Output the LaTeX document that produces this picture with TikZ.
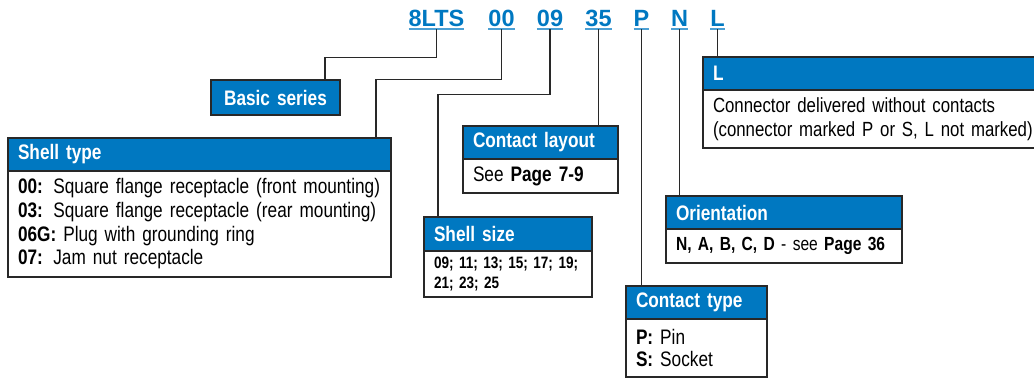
\documentclass[tikz,border=0pt]{standalone}
\usepackage{fontspec}
\setmainfont{Liberation Sans}[FakeStretch=0.82]
\newfontfamily\codefont{Liberation Sans}
\usetikzlibrary{positioning}
\definecolor{hdrblue}{RGB}{0,120,193}
\definecolor{rimgray}{RGB}{40,40,40}
\tikzset{
  code/.style={font=\codefont\bfseries\fontsize{23.5}{28}\selectfont, text=hdrblue, inner xsep=0pt, inner ysep=3pt, outer sep=0pt, anchor=base},
  uline/.style={hdrblue!70, line width=2pt},
  hdr/.style={fill=hdrblue, draw=rimgray, line width=1.4pt, text=white, font=\bfseries\fontsize{21}{24}\selectfont, anchor=north west, align=left, minimum height=33pt, inner xsep=10pt, inner ysep=0pt, outer sep=0pt},
  bdy/.style={fill=white, draw=rimgray, line width=1.4pt, font=\fontsize{21}{23.7}\selectfont, anchor=north west, align=left, inner xsep=10pt, inner ysep=0pt, outer sep=0pt},
  link/.style={rimgray, line width=1.4pt}
}
\begin{document}
\begin{tikzpicture}[x=1pt,y=-1pt]
  \useasboundingbox (0,0) rectangle (1034,378);
  % ordering code
  \node[code] (k8lts) at (436.5,26) {8LTS};
  \node[code] (k00) at (501.5,26) {00};
  \node[code] (k09) at (550,26) {09};
  \node[code] (k35) at (598.5,26) {35};
  \node[code] (kP) at (641.5,26) {P};
  \node[code] (kN) at (679.5,26) {N};
  \node[code] (kL) at (717.5,26) {L};
  \foreach \k in {k8lts,k00,k09,k35,kP,kN,kL}
    \draw[uline] (\k.south west) -- (\k.south east);

  % boxes
  \node[hdr, text width=109pt, align=center, minimum height=35pt] (bs-h) at (211,80) {Basic series};

  \node[hdr, text width=363pt] (st-h) at (8,138) {Shell type};
  \node[bdy, text width=363pt, minimum height=106pt] (st-b) at (st-h.south west)
    {\textbf{00:} Square flange receptacle (front mounting)\\
     \textbf{03:} Square flange receptacle (rear mounting)\\
     \textbf{06G:} Plug with grounding ring\\
     \textbf{07:} Jam nut receptacle};

  \node[hdr, text width=135pt] (cl-h) at (463,126) {Contact layout};
  \node[bdy, text width=135pt, minimum height=34pt] (cl-b) at (cl-h.south west) {See \textbf{Page 7-9}};

  \node[hdr, text width=148pt, minimum height=34pt] (ss-h) at (424,217) {Shell size};
  \node[bdy, text width=148pt, minimum height=46pt, font=\bfseries\fontsize{16.5}{20.5}\selectfont] (ss-b) at (ss-h.south west)
    {09; 11; 13; 15; 17; 19;\\ 21; 23; 25};

  \node[hdr, text width=216pt] (or-h) at (666,196) {Orientation};
  \node[bdy, text width=216pt, minimum height=34pt, font=\fontsize{19}{22}\selectfont] (or-b) at (or-h.south west)
    {\textbf{N, A, B, C, D} - see \textbf{Page 36}};

  \node[hdr, text width=121pt] (ct-h) at (626,286) {Contact type};
  \node[bdy, text width=121pt, minimum height=58pt, font=\fontsize{21}{22.5}\selectfont] (ct-b) at (ct-h.south west)
    {\textbf{P:} Pin\\ \textbf{S:} Socket};

  \node[hdr, text width=330pt] (lb-h) at (703,57) {L};
  \node[bdy, text width=330pt, minimum height=58pt, font=\fontsize{20.5}{23.7}\selectfont] (lb-b) at (lb-h.south west)
    {Connector delivered without contacts\\ (connector marked P or S, L not marked)};

  % connectors
  \draw[link] (k8lts.south) -- ++(0,28) -| ([xshift=49.5pt]bs-h.north);
  \draw[link] (k00.south) -- ++(0,50) -| ([xshift=176.5pt]st-h.north);
  \draw[link] (k09.south) -- ++(0,65) -| ([xshift=-70pt]ss-h.north);
  \draw[link] (k35.south) -- (k35.south |- cl-h.north);
  \draw[link] (kP.south) -- (kP.south |- ct-h.north);
  \draw[link] (kN.south) -- (kN.south |- or-h.north);
  \draw[link] (kL.south) -- (kL.south |- lb-h.north);
\end{tikzpicture}
\end{document}
